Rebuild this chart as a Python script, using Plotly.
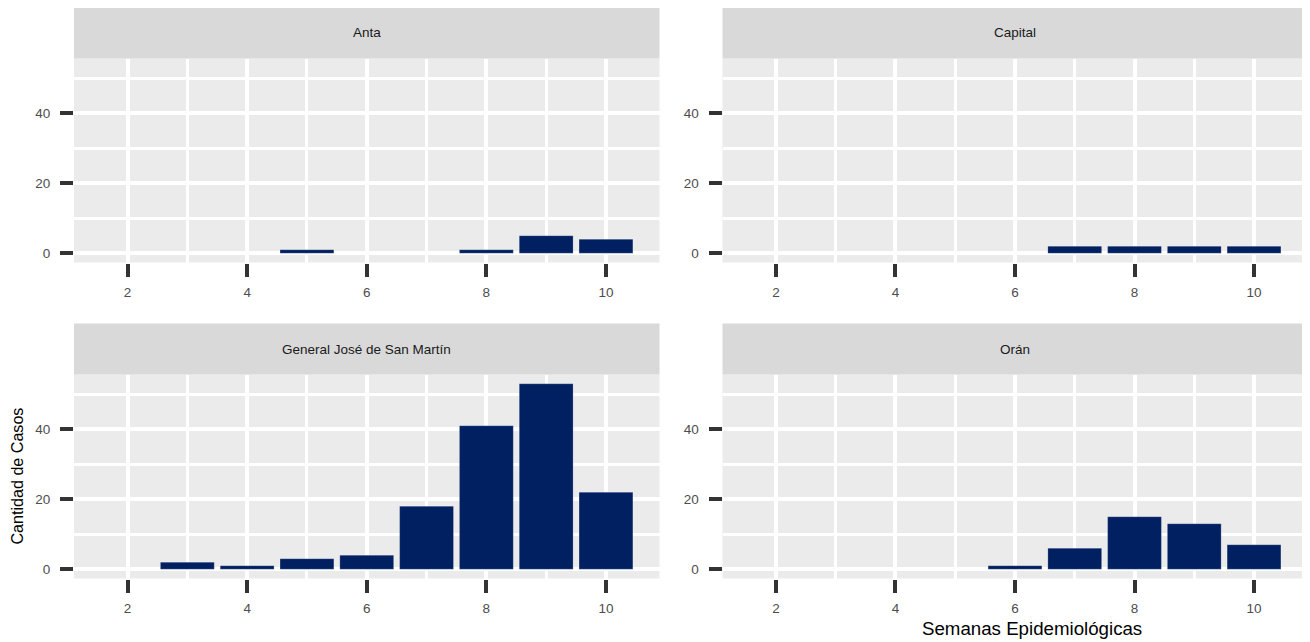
import plotly.graph_objects as go

# ---- data ----
departamentos = ["Anta", "Capital", "General José de San Martín", "Orán"]
semanas_anta = [5, 8, 9, 10]
casos_anta = [1, 1, 5, 4]
semanas_capital = [7, 8, 9, 10]
casos_capital = [2, 2, 2, 2]
semanas_gjsm = [3, 4, 5, 6, 7, 8, 9, 10]
casos_gjsm = [2, 1, 3, 4, 18, 41, 53, 22]
semanas_oran = [6, 7, 8, 9, 10]
casos_oran = [1, 6, 15, 13, 7]
x_ticks = [2, 4, 6, 8, 10]
y_ticks = [0, 20, 40]

series = [
    (semanas_anta, casos_anta),
    (semanas_capital, casos_capital),
    (semanas_gjsm, casos_gjsm),
    (semanas_oran, casos_oran),
]

W, H = 1310, 642
OFF = 8  # page body margin
BAR_COLOR = "rgb(0,32,98)"
FONT = "Arial, Liberation Sans, sans-serif"

# panel pixel boxes in viewport coords: (left, right, top, bottom)
cols = [(74, 659.5), (722.5, 1307.5)]
rows = [(58.5, 262.5), (374.5, 578.5)]
strips = [(7.5, 58.5), (323.5, 374.5)]


def px(v):
    return (v - OFF) / W


def py(v):
    return 1 - (v - OFF) / H


fig = go.Figure()
layout = dict(
    width=W, height=H,
    margin=dict(l=0, r=0, t=0, b=0),
    paper_bgcolor="white",
    plot_bgcolor="rgb(235,235,235)",
    showlegend=False,
    bargap=0.1,
    font=dict(family=FONT),
    shapes=[], annotations=[],
)

for i, (xs, ys) in enumerate(series):
    r, c = divmod(i, 2)
    n = i + 1
    xa = "x" if n == 1 else f"x{n}"
    ya = "y" if n == 1 else f"y{n}"
    fig.add_trace(go.Bar(
        x=xs, y=ys, xaxis=xa, yaxis=ya, width=0.9,
        marker=dict(color=BAR_COLOR, line=dict(color="rgba(255,255,255,0.35)", width=0.6)),
        hoverinfo="x+y",
    ))
    l, rr = cols[c]
    t, b = rows[r]
    xkey = "xaxis" if n == 1 else f"xaxis{n}"
    ykey = "yaxis" if n == 1 else f"yaxis{n}"
    tickfont = dict(family=FONT, size=13.5, color="rgb(77,77,77)")
    layout[xkey] = dict(
        domain=[px(l), px(rr)], anchor=ya, range=[1.105, 10.895],
        tickmode="array", tickvals=x_ticks, ticktext=[str(v) for v in x_ticks],
        ticks="outside", ticklen=13, tickwidth=4, tickcolor="rgb(51,51,51)",
        ticklabelstandoff=4,
        tickfont=tickfont, showgrid=True, gridcolor="white", gridwidth=4,
        minor=dict(tickmode="array", tickvals=[3, 5, 7, 9], showgrid=True,
                   gridcolor="white", gridwidth=2.5, ticks=""),
        zeroline=False, showline=False, fixedrange=True,
    )
    layout[ykey] = dict(
        domain=[py(b), py(t)], anchor=xa, range=[-2.65, 55.65],
        tickmode="array", tickvals=y_ticks, ticktext=[str(v) for v in y_ticks],
        ticks="outside", ticklen=13, tickwidth=4, tickcolor="rgb(51,51,51)",
        ticklabelstandoff=7,
        tickfont=tickfont, showgrid=True, gridcolor="white", gridwidth=4,
        minor=dict(tickmode="array", tickvals=[10, 30, 50], showgrid=True,
                   gridcolor="white", gridwidth=2.5, ticks=""),
        zeroline=False, showline=False, fixedrange=True,
    )
    st, sb = strips[r]
    layout["shapes"].append(dict(
        type="rect", xref="paper", yref="paper",
        x0=px(l), x1=px(rr), y0=py(sb), y1=py(st),
        fillcolor="rgb(217,217,217)", line=dict(width=0), layer="below",
    ))
    layout["annotations"].append(dict(
        text=departamentos[i], xref="paper", yref="paper",
        x=px((l + rr) / 2), y=py((st + sb) / 2),
        showarrow=False, xanchor="center", yanchor="middle",
        font=dict(family=FONT, size=13.5, color="rgb(26,26,26)"),
    ))

layout["annotations"].append(dict(
    text="Cantidad de Casos", xref="paper", yref="paper",
    x=px(16), y=py(476.5), textangle=-90, showarrow=False,
    xanchor="center", yanchor="middle",
    font=dict(family=FONT, size=16.1, color="black"),
))
layout["annotations"].append(dict(
    text="Semanas Epidemiológicas", xref="paper", yref="paper",
    x=px(1031.5), y=py(628), showarrow=False,
    xanchor="center", yanchor="middle",
    font=dict(family=FONT, size=18.7, color="black"),
))

fig.update_layout(**layout)
fig.write_html("out.html")
